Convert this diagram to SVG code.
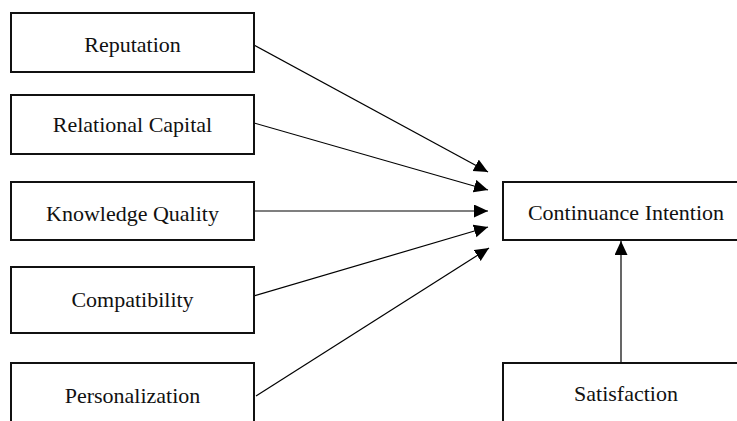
<svg xmlns="http://www.w3.org/2000/svg" width="737" height="421" viewBox="0 0 737 421">
<defs>
<style>
.box{fill:#fff;stroke:#111;stroke-width:2}
.lbl{font-family:"Liberation Serif","DejaVu Serif",serif;font-size:22px;fill:#111;text-anchor:middle}
.edge{stroke:#000;stroke-width:1.2;fill:none;marker-end:url(#ah)}
</style>
<marker id="ah" markerUnits="userSpaceOnUse" markerWidth="15" markerHeight="14" refX="14" refY="6.5" orient="auto" viewBox="0 0 15 14">
<path d="M0,0 L14,6.5 L0,13 z" fill="#000"/>
</marker>
</defs>
<rect width="737" height="421" fill="#fff"/>
<g id="connectors">
<line class="edge" x1="254" y1="45" x2="488" y2="172"/>
<line class="edge" x1="254" y1="123" x2="488" y2="190"/>
<line class="edge" x1="254" y1="211" x2="488" y2="211"/>
<line class="edge" x1="254" y1="296" x2="488" y2="227"/>
<line class="edge" x1="256" y1="396" x2="489" y2="248"/>
<line class="edge" x1="621" y1="363" x2="621" y2="241"/>
</g>
<g id="reputation">
<rect class="box" x="11" y="13" width="243" height="59"/>
<text class="lbl" x="132.5" y="52">Reputation</text>
</g>
<g id="relational-capital">
<rect class="box" x="11" y="95" width="243" height="59"/>
<text class="lbl" x="132.5" y="132">Relational Capital</text>
</g>
<g id="knowledge-quality">
<rect class="box" x="11" y="182" width="243" height="58"/>
<text class="lbl" x="132.5" y="221">Knowledge Quality</text>
</g>
<g id="compatibility">
<rect class="box" x="11" y="267" width="243" height="66"/>
<text class="lbl" x="132.5" y="307">Compatibility</text>
</g>
<g id="personalization">
<rect class="box" x="11" y="363" width="243" height="80"/>
<text class="lbl" x="132.5" y="403">Personalization</text>
</g>
<g id="continuance-intention">
<rect class="box" x="503" y="182" width="260" height="58"/>
<text class="lbl" x="626" y="219.5">Continuance Intention</text>
</g>
<g id="satisfaction">
<rect class="box" x="503" y="363" width="260" height="80"/>
<text class="lbl" x="626" y="401">Satisfaction</text>
</g>
</svg>
